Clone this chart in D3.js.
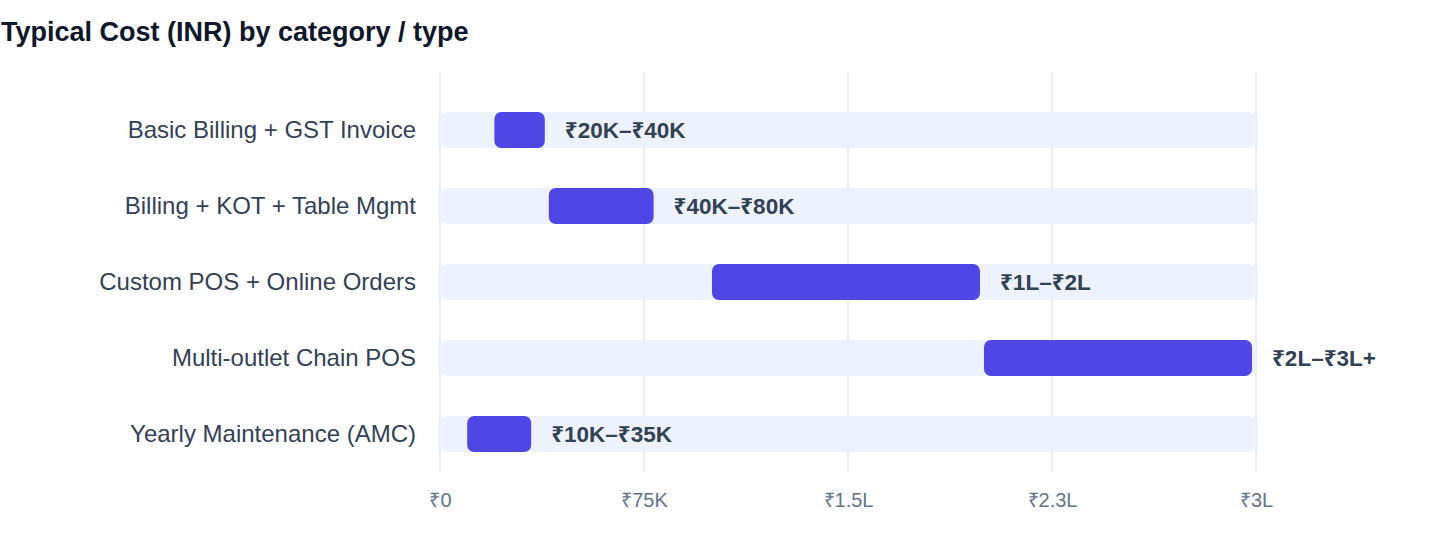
<!DOCTYPE html>
<html>
<head>
<meta charset="utf-8">
<script src="https://cdn.jsdelivr.net/npm/d3@7"></script>
<style>
  html, body { margin: 0; padding: 0; background: #fff; }
  svg { display: block; font-family: "Liberation Sans", Arial, "Noto Sans", sans-serif; }
</style>
</head>
<body>
<svg id="chart"></svg>
<script>
var categories = [
  "Basic Billing + GST Invoice",
  "Billing + KOT + Table Mgmt",
  "Custom POS + Online Orders",
  "Multi-outlet Chain POS",
  "Yearly Maintenance (AMC)"
];
var lowCost = [20000, 40000, 100000, 200000, 10000];
var highCost = [40000, 80000, 200000, 300000, 35000];
var rangeLabels = ["₹20K–₹40K", "₹40K–₹80K", "₹1L–₹2L", "₹2L–₹3L+", "₹10K–₹35K"];
var tickValues = [0, 75000, 150000, 225000, 300000];
var tickLabels = ["₹0", "₹75K", "₹1.5L", "₹2.3L", "₹3L"];

var width = 1440, height = 560;
var margin = { top: 72, right: 184, bottom: 88, left: 440 };

var svg = d3.select("#chart")
  .attr("width", width)
  .attr("height", height);

svg.append("text")
  .attr("x", 1)
  .attr("y", 41)
  .attr("fill", "#0f172a")
  .attr("font-size", 27)
  .attr("font-weight", 700)
  .text("Typical Cost (INR) by category / type");

var x = d3.scaleLinear()
  .domain([0, 300000])
  .range([margin.left, width - margin.right]);

var y = d3.scaleBand()
  .domain(categories)
  .range([margin.top + 20, height - margin.bottom])
  .paddingInner(0.5263)
  .paddingOuter(0.2632);

var rows = categories.map(function(c, i) {
  return { cat: c, lo: lowCost[i], hi: highCost[i], label: rangeLabels[i] };
});

// grid
svg.append("g")
  .selectAll("line")
  .data(tickValues)
  .join("line")
  .attr("x1", function(d) { return x(d); })
  .attr("x2", function(d) { return x(d); })
  .attr("y1", margin.top)
  .attr("y2", height - margin.bottom)
  .attr("stroke", "#e2e8f0")
  .attr("stroke-width", 1.5);

// x axis labels
var xAxis = svg.append("g")
  .attr("transform", "translate(0," + (height - margin.bottom) + ")")
  .call(d3.axisBottom(x)
    .tickValues(tickValues)
    .tickSize(0)
    .tickPadding(21)
    .tickFormat(function(d, i) { return tickLabels[i]; }));
xAxis.select(".domain").remove();
xAxis.selectAll("text")
  .attr("fill", "#64748b")
  .attr("font-size", 20)
  .attr("font-family", null);

// category labels
var yAxis = svg.append("g")
  .attr("transform", "translate(" + (margin.left - 24) + ",0)")
  .call(d3.axisLeft(y).tickSize(0).tickPadding(0));
yAxis.select(".domain").remove();
yAxis.selectAll("text")
  .attr("fill", "#334155")
  .attr("font-size", 24)
  .attr("font-family", null);

// tracks
svg.append("g")
  .selectAll("rect")
  .data(rows)
  .join("rect")
  .attr("x", x(0))
  .attr("y", function(d) { return y(d.cat); })
  .attr("width", x(300000) - x(0))
  .attr("height", y.bandwidth())
  .attr("rx", 7)
  .attr("fill", "#eef2ff");

// range bars
svg.append("g")
  .selectAll("rect")
  .data(rows)
  .join("rect")
  .attr("x", function(d) { return x(d.lo); })
  .attr("y", function(d) { return y(d.cat); })
  .attr("width", function(d) { return x(d.hi) - x(d.lo) - 4; })
  .attr("height", y.bandwidth())
  .attr("rx", 7)
  .attr("fill", "#4f46e5");

// value labels
svg.append("g")
  .selectAll("text")
  .data(rows)
  .join("text")
  .attr("x", function(d) { return x(d.hi) + 16; })
  .attr("y", function(d) { return y(d.cat) + y.bandwidth() / 2; })
  .attr("dy", "0.35em")
  .attr("fill", "#334155")
  .attr("font-size", 22.5)
  .attr("font-weight", 700)
  .text(function(d) { return d.label; });
</script>
</body>
</html>
